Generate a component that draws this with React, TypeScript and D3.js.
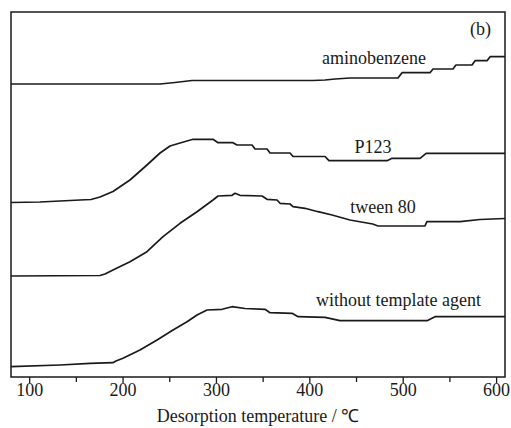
import React from "react";
import * as d3 from "d3";

// Temperature (°C) / intensity (a.u.)
const aminobenzeneT = [80, 239.6, 255.6, 273.8, 403.4, 416.3, 427, 443, 494.4, 498.7, 528.7, 531.9, 553.3, 556.5, 573.7, 576.9, 589.8, 593, 609];
const aminobenzeneV = [293, 293, 294.5, 296.5, 296.5, 297, 298, 299, 299, 304.3, 304.3, 308, 308, 312, 312, 316.3, 316.3, 320.3, 320.3];

const p123T = [80, 111, 132.5, 153.9, 165.7, 175.3, 189.2, 207.4, 225.6, 239.6, 250.3, 261, 274.9, 296.3, 301.7, 317.7, 322, 338.1, 341.3, 354.2, 357.4, 378.8, 382, 416.3, 420.5, 482.7, 488, 518, 524.5, 609];
const p123V = [174.5, 175, 176, 177, 177.5, 180, 185.5, 197, 212, 224, 231, 234, 237.7, 237.7, 234.3, 234.3, 232, 232, 228, 228, 224, 224, 220.5, 220.5, 216.3, 216.3, 218.7, 218.7, 223.7, 223.7];

const tweenT = [80, 175.3, 180.7, 189.2, 207.4, 225.6, 242.8, 261, 279.2, 296.3, 301.7, 316.7, 319.9, 325.2, 348.8, 354.2, 364.9, 368.1, 378.8, 382, 394.8, 408.8, 423.8, 443, 467.3, 473, 523.3, 525.4, 560.8, 582.3, 609];
const tweenV = [101, 101.5, 103, 107, 115.3, 125.3, 140.3, 153.7, 165.3, 177, 181, 181.7, 183.7, 181.7, 181, 177.7, 177, 173.7, 173, 170.3, 168.7, 165.3, 162, 157, 153, 151, 151, 155.3, 155.3, 157.5, 158.5];

const noTemplateT = [80, 132.5, 164.6, 189.2, 192.4, 199.9, 218.1, 236.4, 253.5, 268.5, 279.2, 289.9, 306, 316.7, 330.6, 352, 357.4, 381, 387.4, 416.3, 432.3, 525.5, 534, 609];
const noTemplateV = [10.3, 12, 13.7, 14.3, 16, 18.7, 27, 37, 47, 55.3, 62, 67, 67.7, 70.3, 68.5, 67.7, 64.3, 63.7, 60.3, 59.7, 56.3, 56.3, 60.3, 60.3];

const seriesNames = ["aminobenzene", "P123", "tween 80", "without template agent"];
const labelT = [468.7, 467.7, 478.4, 495];
const labelV = [313.5, 224, 164, 71.3];

const majorTicks = [100, 200, 300, 400, 500, 600];
const minorTicks = [150, 250, 350, 450, 550];
const xTitle = "Desorption temperature / ℃";
const panelLabel = "(b)";

const W = 511, H = 428;
const M = { left: 11, right: 6, top: 12, bottom: 51 };
const FONT = "'Liberation Serif', 'Times New Roman', serif";

export default function App() {
  const x = d3.scaleLinear().domain([80, 609]).range([M.left, W - M.right]);
  const y = d3.scaleLinear().domain([0, 365]).range([H - M.bottom, M.top]);
  const line = d3.line<[number, number]>().x(d => x(d[0])).y(d => y(d[1])).curve(d3.curveLinear);
  const series = [
    [aminobenzeneT, aminobenzeneV],
    [p123T, p123V],
    [tweenT, tweenV],
    [noTemplateT, noTemplateV],
  ].map(([t, v]) => t.map((tt, i) => [tt, v[i]] as [number, number]));
  const x0 = M.left, x1 = W - M.right, y0 = M.top, y1 = H - M.bottom;
  return (
    <svg width={W} height={H} style={{ position: "fixed", left: 0, top: 0, background: "#fff" }} fontFamily={FONT}>
      <rect x={0} y={0} width={W} height={H} fill="#fff" />
      {series.map((s, i) => (
        <path key={i} d={line(s) || ""} fill="none" stroke="#1a1a1a" strokeWidth={1.7} strokeLinejoin="round" />
      ))}
      <rect x={x0} y={y0} width={x1 - x0} height={y1 - y0} fill="none" stroke="#1a1a1a" strokeWidth={1.5} />
      {majorTicks.map(t => (
        <g key={"M" + t}>
          <line x1={x(t)} x2={x(t)} y1={y1} y2={y1 + 6} stroke="#1a1a1a" strokeWidth={1.3} />
          <text x={x(t)} y={396} textAnchor="middle" fontSize={18} fill="#1a1a1a">{t}</text>
        </g>
      ))}
      {minorTicks.map(t => (
        <line key={"m" + t} x1={x(t)} x2={x(t)} y1={y1} y2={y1 + 5} stroke="#1a1a1a" strokeWidth={1.3} />
      ))}
      <text x={(x0 + x1) / 2} y={422} textAnchor="middle" fontSize={18} fill="#1a1a1a">{xTitle}</text>
      <text x={x1 - 14} y={35} textAnchor="end" fontSize={18} fill="#1a1a1a">{panelLabel}</text>
      {seriesNames.map((n, i) => (
        <text key={n} x={x(labelT[i])} y={y(labelV[i])} textAnchor="middle" fontSize={18} fill="#1a1a1a">{n}</text>
      ))}
    </svg>
  );
}
